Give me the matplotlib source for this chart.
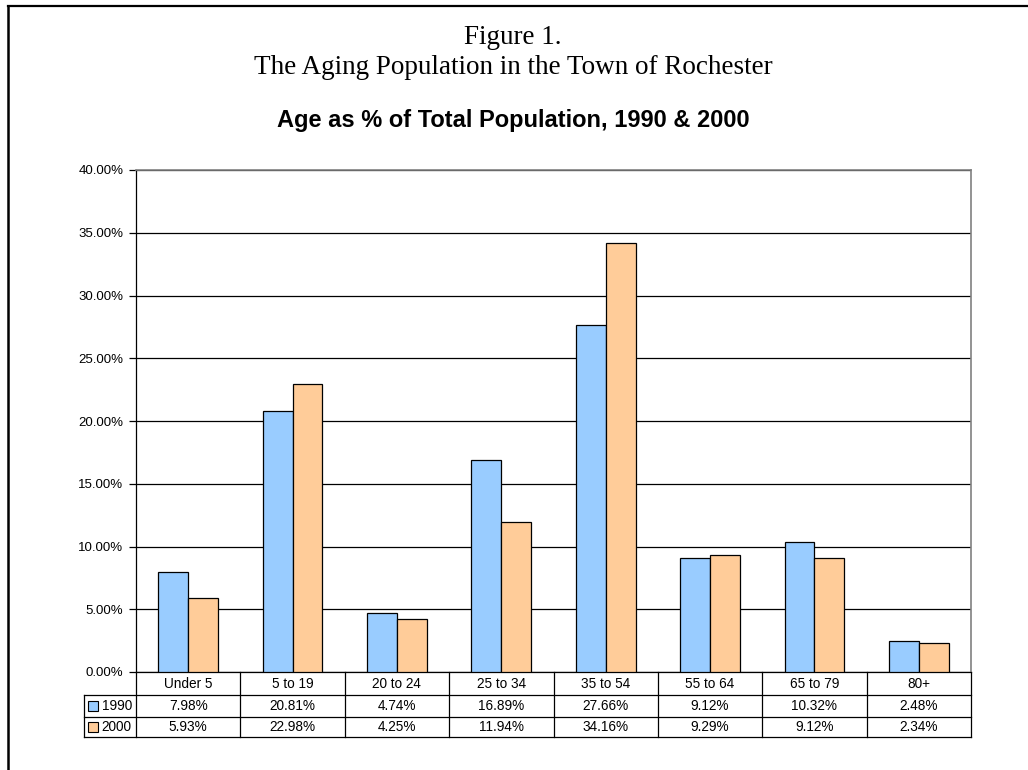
import matplotlib.pyplot as plt
from matplotlib.transforms import blended_transform_factory
from matplotlib.patches import Rectangle

# dados
categorias = ["Under 5", "5 to 19", "20 to 24", "25 to 34", "35 to 54", "55 to 64", "65 to 79", "80+"]
anos = ["1990", "2000"]
v1990 = [7.98, 20.81, 4.74, 16.89, 27.66, 9.12, 10.32, 2.48]
v2000 = [5.93, 22.98, 4.25, 11.94, 34.16, 9.29, 9.12, 2.34]
yticks = [0, 5, 10, 15, 20, 25, 30, 35, 40]

cores = ["#99CCFF", "#FFCC99"]
W, H = 1028, 770

fig = plt.figure(figsize=(W / 100, H / 100), dpi=100)

# moldura da página
fig.add_artist(plt.Line2D([7.5 / W, 1], [1 - 6 / H, 1 - 6 / H], color="black", lw=1.6))
fig.add_artist(plt.Line2D([7.5 / W, 7.5 / W], [0, 1 - 6 / H], color="black", lw=1.8))

# títulos
fig.text(513 / W, 1 - 44 / H, "Figure 1.", ha="center", va="baseline",
         family="Liberation Serif", fontsize=19.5)
fig.text(513 / W, 1 - 74 / H, "The Aging Population in the Town of Rochester",
         ha="center", va="baseline", family="Liberation Serif", fontsize=19.5)
fig.text(513 / W, 1 - 127 / H, "Age as % of Total Population, 1990 & 2000",
         ha="center", va="baseline", family="Liberation Sans", fontsize=17,
         fontweight="bold")

# área do gráfico
x0, x1, ytop, ybot = 136, 971, 170, 672
ax = fig.add_axes([x0 / W, 1 - ybot / H, (x1 - x0) / W, (ybot - ytop) / H])

n = len(categorias)
larg = 1 / 3.5
xs = list(range(n))
ax.bar([x - larg / 2 for x in xs], v1990, width=larg, color=cores[0],
       edgecolor="black", linewidth=0.9, zorder=3)
ax.bar([x + larg / 2 for x in xs], v2000, width=larg, color=cores[1],
       edgecolor="black", linewidth=0.9, zorder=3)

ax.set_xlim(-0.5, n - 0.5)
ax.set_ylim(0, 40)
ax.set_yticks(yticks)
ax.set_yticklabels([f"{t:.2f}%" for t in yticks], family="Liberation Sans", fontsize=9.5)
ax.set_xticks([])
ax.tick_params(axis="y", direction="out", length=5, width=0.9, pad=4)
ax.yaxis.grid(True, color="black", linewidth=0.9, zorder=0)
ax.set_axisbelow(True)
for lado in ["top", "right"]:
    ax.spines[lado].set_color("#808080")
    ax.spines[lado].set_linewidth(1.2)
ax.spines["left"].set_linewidth(0.9)
ax.spines["bottom"].set_linewidth(0.9)

# tabela de dados
tr = blended_transform_factory(ax.transData, ax.transAxes)
hpx = ybot - ytop
linhas = [0, -23 / hpx, -45 / hpx, -65 / hpx]
lw = 0.9
for yy in linhas[1:]:
    ax.plot([-1.0, n - 0.5], [yy] * 2, color="black", lw=lw, transform=tr, clip_on=False)
ax.plot([-1.0, -1.0], [linhas[1], linhas[3]], color="black", lw=lw, transform=tr, clip_on=False)
for i in range(n + 1):
    ax.plot([i - 0.5, i - 0.5], [0, linhas[3]], color="black", lw=lw, transform=tr, clip_on=False)

fonte = dict(family="Liberation Sans", fontsize=9.8, transform=tr, ha="center", va="center")
for i, c in enumerate(categorias):
    ax.text(i, (linhas[0] + linhas[1]) / 2, c, **fonte)
for j, (ano, vals) in enumerate(zip(anos, [v1990, v2000])):
    ym = (linhas[j + 1] + linhas[j + 2]) / 2
    for i, v in enumerate(vals):
        ax.text(i, ym, f"{v:.2f}%", **fonte)
    # chave da legenda
    ax.add_patch(Rectangle((-0.963, ym - 5 / hpx), 0.1, 10 / hpx, facecolor=cores[j],
                           edgecolor="black", linewidth=0.8, transform=tr, clip_on=False))
    ax.text(-0.83, ym, ano, family="Liberation Sans", fontsize=9.8, transform=tr,
            ha="left", va="center")

fig.savefig("out.png", dpi=100)
